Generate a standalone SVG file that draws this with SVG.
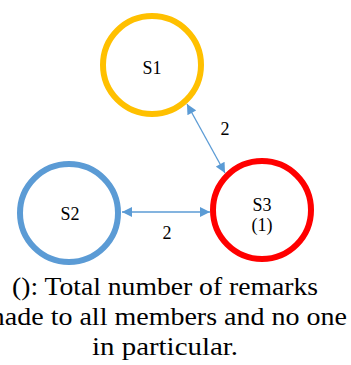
<svg xmlns="http://www.w3.org/2000/svg" width="351" height="365" viewBox="0 0 351 365">
<style>
.node{fill:none;stroke-width:6}
.lbl{font-family:"Liberation Serif","Times New Roman",serif;font-size:18px;fill:#000;text-anchor:middle}
.edge{stroke:#5B9BD5;stroke-width:1.3;fill:none}
.cap{font-family:"Liberation Serif","Times New Roman",serif;font-size:26px;fill:#000;text-anchor:middle}
</style>
<defs>
<marker id="ah" viewBox="0 0 10 10" refX="10" refY="5" markerWidth="12" markerHeight="10" markerUnits="userSpaceOnUse" orient="auto-start-reverse">
<path d="M0,0 L10,5 L0,10 z" fill="#5B9BD5"/>
</marker>
</defs>
<rect width="351" height="365" fill="#fff"/>
<g id="edges">
<line class="edge" x1="187" y1="104" x2="225" y2="173" marker-start="url(#ah)" marker-end="url(#ah)"/>
<text class="lbl" x="225" y="135">2</text>
<line class="edge" x1="122" y1="212" x2="210" y2="212" marker-start="url(#ah)" marker-end="url(#ah)"/>
<text class="lbl" x="167" y="239">2</text>
</g>
<g id="S1">
<circle class="node" cx="152" cy="65" r="49" stroke="#FFC000"/>
<text class="lbl" x="152" y="74">S1</text>
</g>
<g id="S2">
<circle class="node" cx="69" cy="213" r="49" stroke="#5B9BD5"/>
<text class="lbl" x="70" y="220">S2</text>
</g>
<g id="S3">
<circle class="node" cx="262" cy="210" r="49" stroke="#FF0000"/>
<text class="lbl" x="262" y="211">S3</text>
<text class="lbl" x="262" y="231">(1)</text>
</g>
<g id="caption">
<text class="cap" x="165" y="295" textLength="306" lengthAdjust="spacingAndGlyphs">(): Total number of remarks</text>
<text class="cap" x="165" y="325" textLength="364" lengthAdjust="spacingAndGlyphs">made to all members and no one</text>
<text class="cap" x="165" y="355" textLength="146" lengthAdjust="spacingAndGlyphs">in particular.</text>
</g>
</svg>
